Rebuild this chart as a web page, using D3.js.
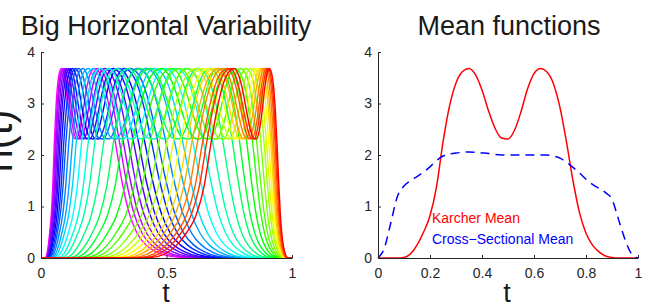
<!DOCTYPE html>
<html>
<head>
<meta charset="utf-8">
<script src="https://cdn.jsdelivr.net/npm/d3@7"></script>
<style>
  body { margin: 0; background: #fff; }
  svg { display: block; }
  text { font-family: "Liberation Sans", Arial, Helvetica, sans-serif; }
</style>
</head>
<body>
<div id="chart"></div>
<script>
// sample grid (t)
const tGrid = [0, 0.025, 0.05, 0.075, 0.1, 0.125, 0.15, 0.175, 0.2, 0.225,
  0.25, 0.275, 0.3, 0.325, 0.35, 0.375, 0.4, 0.425, 0.45, 0.475,
  0.5, 0.525, 0.55, 0.575, 0.6, 0.625, 0.65, 0.675, 0.7, 0.725,
  0.75, 0.775, 0.8, 0.825, 0.85, 0.875, 0.9, 0.925, 0.95, 0.975, 1];

// Karcher mean (red, right panel) - also the shape the left curves are warped from
const karcherMean = [0, 0, 0, 0, 0.01, 0.08, 0.25, 0.50, 0.82, 1.38,
  2.25, 2.95, 3.40, 3.62, 3.68, 3.56, 3.26, 2.86, 2.52, 2.33,
  2.31, 2.48, 2.84, 3.28, 3.58, 3.68, 3.61, 3.38, 2.92, 2.25,
  1.50, 0.88, 0.48, 0.25, 0.12, 0.04, 0.01, 0, 0, 0, 0];

// cross-sectional mean (blue dashed)
const crossSectionalMean = [0, 0.20, 0.70, 1.20, 1.40, 1.50, 1.58, 1.67, 1.77, 1.89,
  1.98, 2.02, 2.04, 2.05, 2.06, 2.05, 2.04, 2.03, 2.01, 2.00,
  2.00, 2.00, 2.00, 2.00, 2.00, 2.00, 2.00, 1.98, 1.94, 1.86,
  1.76, 1.65, 1.53, 1.43, 1.35, 1.27, 1.14, 0.75, 0.36, 0.08, 0];

// warp strength of each sample function (left panel, magenta -> red)
const warpStrength = [-1, -0.93, -0.87, -0.8, -0.73, -0.67, -0.6, -0.53, -0.47, -0.4,
  -0.33, -0.27, -0.2, -0.13, -0.07, 0, 0.07, 0.13, 0.2, 0.27,
  0.33, 0.4, 0.47, 0.53, 0.6, 0.67, 0.73, 0.8, 0.87, 0.93, 1];

const yTicks = [0, 1, 2, 3, 4];
const leftXTicks = [0, 0.5, 1];
const rightXTicks = [0, 0.2, 0.4, 0.6, 0.8, 1];
const legendLabels = ["Karcher Mean", "Cross\u2212Sectional Mean"];

const width = 645, height = 308;
const axisColor = "#262626";

const svg = d3.select("#chart").append("svg")
  .attr("width", width).attr("height", height);

const y = d3.scaleLinear().domain([0, 4]).range([258, 52]);
const xL = d3.scaleLinear().domain([0, 1]).range([41, 292]);
const xR = d3.scaleLinear().domain([0, 1]).range([378, 638]);

// warp = mix of a slow and a fast exponential warp
const SLOW = 3, FAST = 12, MIX = 0.7;
function expWarp(t, a) {
  return a === 0 ? t : Math.expm1(a * t) / Math.expm1(a);
}
function warp(t, s) {
  return MIX * expWarp(t, SLOW * s) + (1 - MIX) * expWarp(t, FAST * s);
}
function warpInv(u, s) {
  let lo = 0, hi = 1;
  for (let k = 0; k < 40; k++) {
    const mid = (lo + hi) / 2;
    if (warp(mid, s) < u) lo = mid; else hi = mid;
  }
  return (lo + hi) / 2;
}

const hue = d3.scaleLinear().domain([0, warpStrength.length - 1]).range([300, 0]);

function drawAxes(x, xTicks, xFmt) {
  svg.append("g")
    .attr("transform", `translate(0,${y(0)})`)
    .call(d3.axisBottom(x).tickValues(xTicks).tickFormat(xFmt)
      .tickSize(-3).tickSizeOuter(0).tickPadding(10))
    .call(g => g.select(".domain").attr("stroke", axisColor))
    .call(g => g.selectAll(".tick line").attr("stroke", axisColor))
    .call(g => g.selectAll("text").attr("fill", axisColor).attr("font-size", 14));

  svg.append("g")
    .attr("transform", `translate(${x(0)},0)`)
    .call(d3.axisLeft(y).tickValues(yTicks).tickFormat(d3.format("d"))
      .tickSize(-3).tickSizeOuter(0).tickPadding(6))
    .call(g => g.select(".domain").attr("stroke", axisColor))
    .call(g => g.selectAll(".tick line").attr("stroke", axisColor))
    .call(g => g.selectAll("text").attr("fill", axisColor).attr("font-size", 14));
}

// ---- left panel
const lineL = d3.line()
  .x(d => xL(d[0])).y(d => y(d[1]))
  .curve(d3.curveMonotoneX);

svg.append("g")
  .selectAll("path")
  .data(warpStrength)
  .join("path")
    .attr("fill", "none")
    .attr("stroke-width", 1.4)
    .attr("stroke", (s, i) => d3.hsl(hue(i), 1, 0.5))
    .attr("d", s => lineL(tGrid.map((u, j) => [warpInv(u, s), karcherMean[j]])));

drawAxes(xL, leftXTicks, d3.format("~g"));

svg.append("text")
  .attr("x", 166).attr("y", 35)
  .attr("text-anchor", "middle")
  .attr("font-size", 27).attr("fill", "#1a1a1a")
  .text("Big Horizontal Variability");

svg.append("text")
  .attr("x", 166).attr("y", 302)
  .attr("text-anchor", "middle")
  .attr("font-size", 27).attr("fill", "#1a1a1a")
  .text("t");

svg.append("text")
  .attr("transform", "translate(12,141) rotate(-90)")
  .attr("text-anchor", "middle")
  .attr("font-size", 42).attr("fill", "#1a1a1a")
  .text("h(t)");

// ---- right panel
const lineR = d3.line()
  .x((d, j) => xR(tGrid[j])).y(d => y(d))
  .curve(d3.curveMonotoneX);

svg.append("path")
  .attr("fill", "none")
  .attr("stroke", "#ff0000")
  .attr("stroke-width", 1.5)
  .attr("d", lineR(karcherMean));

svg.append("path")
  .attr("fill", "none")
  .attr("stroke", "#0000ff")
  .attr("stroke-width", 1.5)
  .attr("stroke-dasharray", "9,6")
  .attr("d", lineR(crossSectionalMean));

drawAxes(xR, rightXTicks, d3.format("~g"));

svg.append("text")
  .attr("x", 509).attr("y", 35)
  .attr("text-anchor", "middle")
  .attr("font-size", 27).attr("fill", "#1a1a1a")
  .text("Mean functions");

svg.append("text")
  .attr("x", 507).attr("y", 302)
  .attr("text-anchor", "middle")
  .attr("font-size", 27).attr("fill", "#1a1a1a")
  .text("t");

svg.append("g")
  .selectAll("text")
  .data(legendLabels)
  .join("text")
    .attr("x", 432)
    .attr("y", (d, i) => 223 + i * 21)
    .attr("font-size", 14)
    .attr("fill", (d, i) => i === 0 ? "#ff0000" : "#0000ff")
    .text(d => d);
</script>
</body>
</html>
